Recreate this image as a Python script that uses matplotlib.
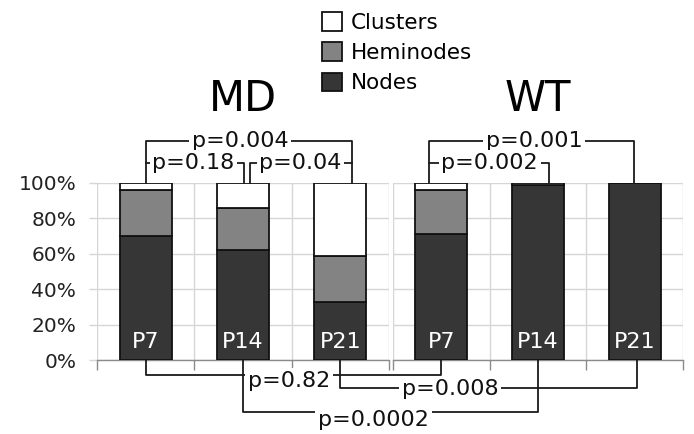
import matplotlib
matplotlib.use("Agg")
import matplotlib.pyplot as plt
from matplotlib.lines import Line2D
from matplotlib.patches import Patch

plt.rcParams['font.family'] = ['DejaVu Sans']

# ---- data ----
stages = ['P7', 'P14', 'P21']
groups = ['MD', 'WT']
md_nodes = [70, 62, 33]
md_hemi = [26, 24, 26]
md_clusters = [4, 14, 41]
wt_nodes = [71, 99, 100]
wt_hemi = [25, 0, 0]
wt_clusters = [4, 1, 0]
yticks = [0, 20, 40, 60, 80, 100]
ytick_labels = ['0%', '20%', '40%', '60%', '80%', '100%']
series_names = ['Nodes', 'Heminodes', 'Clusters']
colors = ['#363636', '#838383', '#ffffff']

W, H = 694, 434
fig = plt.figure(figsize=(W / 100, H / 100), dpi=100)
ax1 = fig.add_axes([97 / W, 74 / H, 292 / W, 177 / H])
ax2 = fig.add_axes([393 / W, 74 / H, 290 / W, 177 / H])

grid_c = '#d6d6d6'
x = list(range(len(stages)))
bw = 0.535

for ax, nodes, hemi, clus, title in [(ax1, md_nodes, md_hemi, md_clusters, 'MD'),
                                      (ax2, wt_nodes, wt_hemi, wt_clusters, 'WT')]:
    ax.set_xlim(-0.5, 2.5)
    ax.set_ylim(0, 100)
    bottoms = [0] * 3
    for vals, c, name in zip([nodes, hemi, clus], colors, series_names):
        ax.bar(x, vals, bw, bottom=bottoms, color=c, edgecolor='#111111',
               linewidth=1.3, label=name, zorder=3)
        bottoms = [bb + v for bb, v in zip(bottoms, vals)]
    for xi, s in zip(x, stages):
        ax.text(xi, 9.9, s, ha='center', va='center', color='white',
                fontsize=16, zorder=4)
    for sp in ['left', 'right', 'top']:
        ax.spines[sp].set_visible(False)
    ax.spines['bottom'].set_color('#8a8a8a')
    ax.spines['bottom'].set_linewidth(1.0)
    ax.set_xticks([-0.5, 0.5, 1.5, 2.5])
    ax.set_xticklabels([])
    ax.tick_params(axis='x', direction='out', length=7, color='#8a8a8a', width=1.0)
    ax.set_yticks(yticks)
    ax.grid(True, color=grid_c, linewidth=1.0, zorder=0)
    ax.set_axisbelow(True)
    ax.set_title(title, fontsize=30, pad=52)

ax1.set_yticklabels(ytick_labels, fontsize=14.5, color='#222222')
ax1.tick_params(axis='y', length=6, color=grid_c, width=1.0, pad=9)
ax2.set_yticklabels([])
ax2.tick_params(axis='y', length=0)

# legend
leg_handles = [Patch(facecolor=colors[i], edgecolor='#111111', linewidth=1.3,
                     label=series_names[i]) for i in [2, 1, 0]]
fig.legend(handles=leg_handles, loc='upper left',
           bbox_to_anchor=(322 / W, 1 - 12 / H), frameon=False, fontsize=15.5,
           handlelength=0.95, handleheight=0.95, handletextpad=0.4,
           labelspacing=0.45, borderpad=0, borderaxespad=0)

# ---- significance brackets ----
lc = '#1a1a1a'


def fpt(ax, xv, yv):
    d = ax.transData.transform((xv, yv))
    return fig.transFigure.inverted().transform(d)


def poly(points):
    pts = [fpt(*p) for p in points]
    xs = [p[0] for p in pts]
    ys = [p[1] for p in pts]
    fig.add_artist(Line2D(xs, ys, transform=fig.transFigure, color=lc,
                          linewidth=1.3, zorder=5))


def label(ax, xv, yv, s):
    fx, fy = fpt(ax, xv, yv)
    fig.text(fx, fy, s, ha='center', va='center', fontsize=16, color='#111111',
             zorder=6, bbox=dict(facecolor='white', edgecolor='none', pad=2))


# top (MD)
poly([(ax1, 0, 100), (ax1, 0, 123.7), (ax1, 2.12, 123.7), (ax1, 2.12, 100)])
label(ax1, 0.97, 123.7, 'p=0.004')
poly([(ax1, 0, 111.3), (ax1, 1.01, 111.3), (ax1, 1.01, 100)])
label(ax1, 0.49, 111.3, 'p=0.18')
poly([(ax1, 1.07, 100), (ax1, 1.07, 111.3), (ax1, 2.12, 111.3)])
label(ax1, 1.59, 111.3, 'p=0.04')
# top (WT)
poly([(ax2, -0.13, 100), (ax2, -0.13, 123.7), (ax2, 1.99, 123.7), (ax2, 1.99, 100)])
label(ax2, 0.96, 123.7, 'p=0.001')
poly([(ax2, -0.13, 111.3), (ax2, 1.11, 111.3), (ax2, 1.11, 100)])
label(ax2, 0.50, 111.3, 'p=0.002')
# bottom (MD vs WT)
poly([(ax1, 0, 0), (ax1, 0, -8.5), (ax2, 0, -8.5), (ax2, 0, 0)])
label(ax1, 1.47, -11.9, 'p=0.82')
poly([(ax1, 2, 0), (ax1, 2, -15.8), (ax2, 2.02, -15.8), (ax2, 2.02, 0)])
label(ax2, 0.09, -16.4, 'p=0.008')
poly([(ax1, 1, 0), (ax1, 1, -29.4), (ax2, 1, -29.4), (ax2, 1, 0)])
label(ax1, 2.34, -33.9, 'p=0.0002')

fig.savefig('out.png', dpi=100)
